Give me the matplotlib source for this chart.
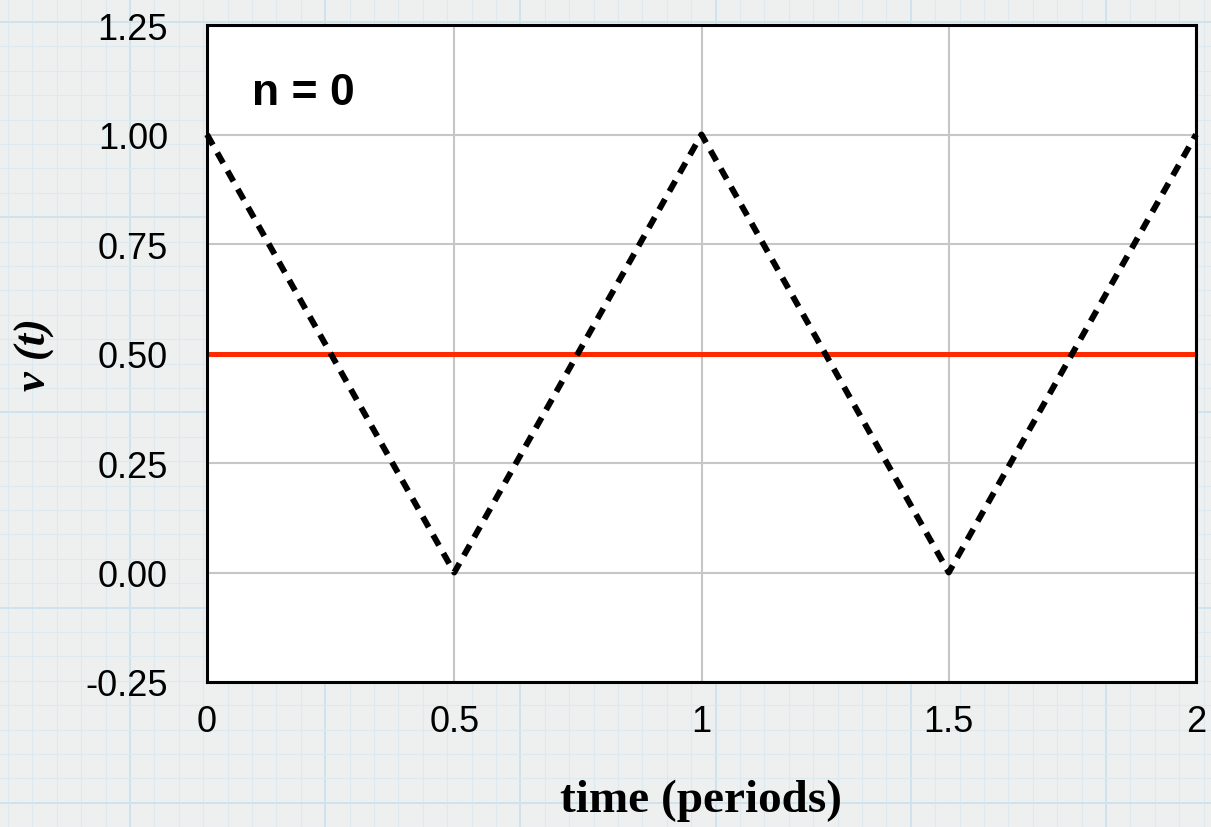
import numpy as np
import matplotlib
matplotlib.use("Agg")
import matplotlib.pyplot as plt

# triangle wave and its n = 0 Fourier term (the DC level)
t_points = [0, 0.5, 1, 1.5, 2]
v_points = [1, 0, 1, 0, 1]
dc_level = 0.5

x_ticks = [0, 0.5, 1, 1.5, 2]
x_labels = ["0", "0.5", "1", "1.5", "2"]
y_ticks = [-0.25, 0, 0.25, 0.5, 0.75, 1.0, 1.25]

W, H = 1211, 828
fig = plt.figure(figsize=(W / 100, H / 100), dpi=100)
fig.patch.set_facecolor("#eeefef")

# graph paper backdrop, in pixel units
bg = fig.add_axes([0, 0, 1, 1], zorder=-10)
bg.set_xlim(0, W)
bg.set_ylim(H, 0)
bg.axis("off")
cell = 24.4
for i in range(-1, 52):
    x = 8 + i * cell
    major = (i - 5) % 8 == 0
    bg.axvline(x, color="#cfe3f0" if major else "#dce9f1",
               lw=1.4 if major else 0.8, zorder=0)
for j in range(-1, 36):
    y = 23 + j * cell
    major = j % 8 == 0
    bg.axhline(y, color="#cfe3f0" if major else "#dce9f1",
               lw=1.4 if major else 0.8, zorder=0)

ax = fig.add_axes([207 / W, 1 - 683 / H, (1196 - 207) / W, (683 - 26) / H])
ax.set_facecolor("white")

ax.plot(t_points, v_points, color="black", lw=4.3, dashes=(2.0, 1.5),
        solid_capstyle="butt", dash_capstyle="butt", zorder=3, clip_on=False)
ax.axhline(dc_level, color="#ff2a00", lw=3.6, zorder=2)

ax.set_xlim(0, 2)
ax.set_ylim(-0.25, 1.25)
ax.set_xticks(x_ticks)
ax.set_xticklabels(x_labels)
ax.set_yticks(y_ticks)
ax.set_yticklabels([f"{v:.2f}" for v in y_ticks])
ax.grid(True, color="#c6c6c6", lw=1.5, zorder=1)
ax.set_axisbelow(True)
ax.tick_params(length=0, labelsize=26, labelcolor="black")
ax.tick_params(axis="y", pad=28)
ax.tick_params(axis="x", pad=16)
for lab in ax.get_xticklabels() + ax.get_yticklabels():
    lab.set_family("Liberation Sans")
for s in ax.spines.values():
    s.set_linewidth(2.2)
    s.set_color("black")
    s.set_zorder(4)

ax.text(0.045, 0.88, "n = 0", transform=ax.transAxes, fontsize=32,
        fontweight="bold", family="Liberation Sans", va="baseline", ha="left")

ax.set_xlabel("time (periods)", fontsize=34, fontweight="bold",
              family="Liberation Serif", labelpad=28)
ax.set_ylabel("v (t)", fontsize=32, fontweight="bold", fontstyle="italic",
              family="Liberation Serif", labelpad=22)

fig.savefig("out.png", dpi=100, facecolor=fig.get_facecolor())
